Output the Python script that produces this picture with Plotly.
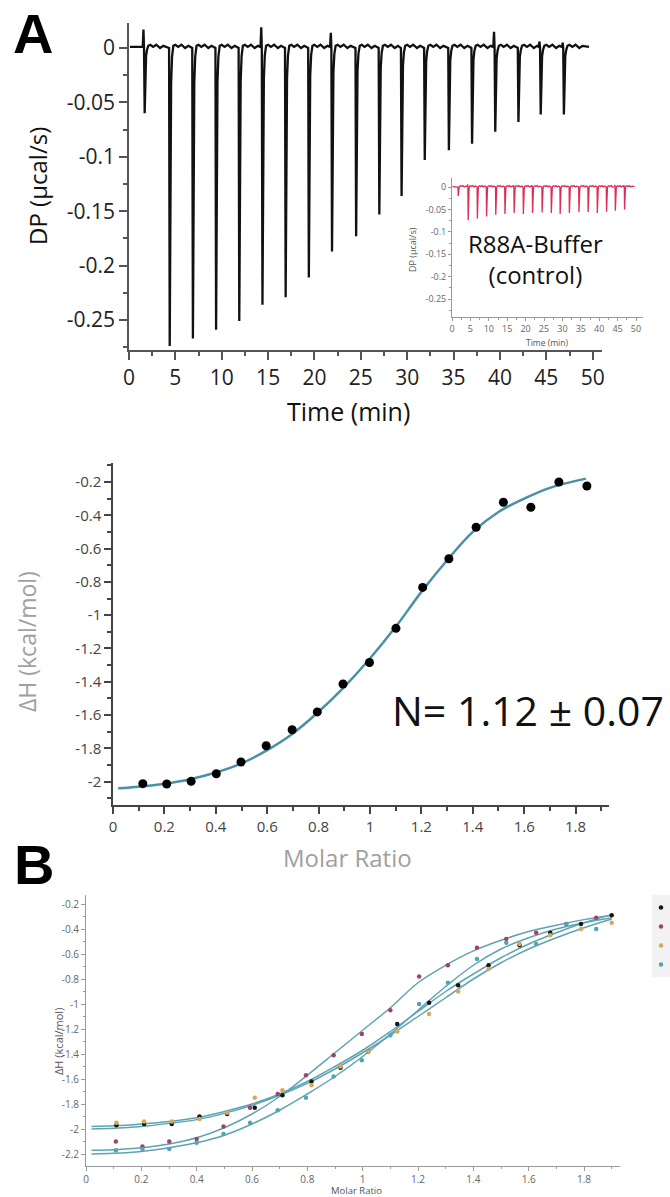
import plotly.graph_objects as go

W, H = 670, 1197

# ---------------- Panel A: raw thermogram ----------------
injection_time = [1.6, 4.3, 6.8, 9.3, 11.8, 14.3, 16.8, 19.3, 21.8, 24.4,
                  26.9, 29.3, 31.8, 34.4, 36.9, 39.4, 41.9, 44.3, 46.8]
sample_dp_min = [-0.060, -0.274, -0.267, -0.259, -0.251, -0.236, -0.229, -0.211,
                 -0.187, -0.173, -0.153, -0.136, -0.103, -0.094, -0.088, -0.077,
                 -0.068, -0.061, -0.061]
sample_spike = [0.017, 0, 0, 0, 0, 0.019, 0, 0, 0.014, 0,
                0, 0, 0, 0, 0, 0.015, 0, 0.006, 0.005]
control_dp_min = [-0.020, -0.074, -0.070, -0.066, -0.062, -0.060, -0.058, -0.060,
                  -0.058, -0.057, -0.058, -0.060, -0.058, -0.056, -0.056, -0.058,
                  -0.055, -0.053, -0.050]
control_spike = [0, 0.006, 0, 0, 0, 0, 0.004, 0, 0.004, 0,
                 0, 0, 0, 0, 0, 0, 0, 0.005, 0.004]
run_start, run_end = 0.1, 49.6

dp_tickvals = [0, -0.05, -0.1, -0.15, -0.2, -0.25]
dp_ticktext = ["0", "-0.05", "-0.1", "-0.15", "-0.2", "-0.25"]
time_tickvals = [0, 5, 10, 15, 20, 25, 30, 35, 40, 45, 50]
time_ticktext = [str(v) for v in time_tickvals]

# ---------------- Panel A: integrated heats ----------------
molar_ratio = [0.116, 0.209, 0.304, 0.402, 0.498, 0.596, 0.697, 0.795, 0.895,
               0.998, 1.101, 1.205, 1.307, 1.413, 1.519, 1.626, 1.735, 1.844]
delta_h = [-2.012, -2.014, -1.998, -1.952, -1.882, -1.784, -1.688, -1.581, -1.413,
           -1.284, -1.079, -0.833, -0.661, -0.472, -0.322, -0.352, -0.200, -0.224]
fit_ratio = [0.02, 0.1, 0.2, 0.3, 0.4, 0.5, 0.6, 0.7, 0.8, 0.9, 1.0,
             1.1, 1.2, 1.3, 1.4, 1.5, 1.6, 1.7, 1.84]
fit_dh = [-2.04, -2.03, -2.012, -1.985, -1.945, -1.89, -1.81, -1.71, -1.58, -1.43,
          -1.26, -1.07, -0.86, -0.67, -0.50, -0.38, -0.30, -0.235, -0.18]

dh_tickvals = [-0.2, -0.4, -0.6, -0.8, -1, -1.2, -1.4, -1.6, -1.8, -2]
dh_ticktext = ["-0.2", "-0.4", "-0.6", "-0.8", "-1", "-1.2", "-1.4", "-1.6", "-1.8", "-2"]
mr_tickvals = [0, 0.2, 0.4, 0.6, 0.8, 1, 1.2, 1.4, 1.6, 1.8]
mr_ticktext = ["0", "0.2", "0.4", "0.6", "0.8", "1", "1.2", "1.4", "1.6", "1.8"]

# ---------------- Panel B: replicate titrations ----------------
rep_colors = ["#151515", "#a3406e", "#d9a75a", "#4fa6b5"]
rep_ratio = [
    [0.11, 0.21, 0.31, 0.41, 0.51, 0.61, 0.71, 0.815, 0.92, 1.02, 1.125, 1.24, 1.345, 1.455, 1.567, 1.678, 1.789, 1.90],
    [0.108, 0.204, 0.301, 0.40, 0.497, 0.593, 0.693, 0.795, 0.895, 0.997, 1.10, 1.204, 1.308, 1.413, 1.519, 1.627, 1.736, 1.844],
    [0.11, 0.21, 0.31, 0.41, 0.51, 0.61, 0.71, 0.815, 0.92, 1.02, 1.125, 1.24, 1.345, 1.455, 1.567, 1.678, 1.789, 1.90],
    [0.108, 0.204, 0.301, 0.40, 0.497, 0.593, 0.693, 0.795, 0.895, 0.997, 1.10, 1.204, 1.308, 1.413, 1.519, 1.627, 1.736, 1.844],
]
rep_dh = [
    [-1.97, -1.96, -1.96, -1.90, -1.88, -1.83, -1.73, -1.62, -1.51, -1.38, -1.16, -0.99, -0.85, -0.69, -0.53, -0.43, -0.36, -0.29],
    [-2.10, -2.14, -2.10, -2.08, -1.98, -1.83, -1.72, -1.57, -1.41, -1.24, -1.05, -0.78, -0.69, -0.55, -0.48, -0.43, -0.36, -0.31],
    [-1.95, -1.94, -1.94, -1.92, -1.87, -1.75, -1.69, -1.65, -1.50, -1.38, -1.22, -1.08, -0.90, -0.72, -0.52, -0.45, -0.40, -0.35],
    [-2.17, -2.16, -2.16, -2.11, -2.04, -1.95, -1.85, -1.75, -1.58, -1.45, -1.25, -1.00, -0.83, -0.64, -0.51, -0.52, -0.36, -0.40],
]
rep_fit_ratio = [0.02, 0.1, 0.2, 0.3, 0.4, 0.5, 0.6, 0.7, 0.8, 0.9, 1.0,
                 1.1, 1.2, 1.3, 1.4, 1.5, 1.6, 1.7, 1.8, 1.9]
rep_fit_dh = [
    [-1.98, -1.975, -1.96, -1.94, -1.91, -1.86, -1.80, -1.72, -1.62, -1.50, -1.37, -1.22, -1.06, -0.90, -0.76, -0.63, -0.52, -0.43, -0.35, -0.285],
    [-2.17, -2.165, -2.15, -2.12, -2.07, -1.99, -1.88, -1.74, -1.57, -1.39, -1.21, -1.03, -0.83, -0.69, -0.575, -0.49, -0.42, -0.37, -0.325, -0.29],
    [-2.00, -1.995, -1.98, -1.955, -1.925, -1.875, -1.81, -1.73, -1.635, -1.52, -1.39, -1.25, -1.10, -0.95, -0.80, -0.67, -0.56, -0.47, -0.39, -0.32],
    [-2.20, -2.195, -2.18, -2.15, -2.11, -2.05, -1.96, -1.85, -1.72, -1.58, -1.42, -1.24, -1.05, -0.86, -0.69, -0.56, -0.47, -0.40, -0.35, -0.31],
]
b_dh_tickvals = [-0.2, -0.4, -0.6, -0.8, -1, -1.2, -1.4, -1.6, -1.8, -2, -2.2]
b_dh_ticktext = ["-0.2", "-0.4", "-0.6", "-0.8", "-1", "-1.2", "-1.4", "-1.6", "-1.8", "-2", "-2.2"]

# Shape of a single injection peak: (time offset, fraction of peak depth, baseline offset)
PEAK_PROFILE = [(0.02, 0.0, 0.0), (0.09, 1.0, 0.0), (0.16, 0.40, 0.0), (0.24, 0.12, 0.0),
                (0.34, 0.03, 0.0), (0.48, 0.0, 0.002), (0.70, 0.0, 0.003), (1.00, 0.0, 0.001),
                (1.35, 0.0, 0.003), (1.75, 0.0, 0.0), (2.10, 0.0, 0.002)]


def thermogram(times, depths, spikes, t0, t1):
    t, v = [t0], [0.001]
    for ti, di, si in zip(times, depths, spikes):
        t.append(ti - 0.12)
        v.append(0.001)
        if si:
            t.append(ti - 0.04)
            v.append(si)
        for dt, frac, off in PEAK_PROFILE:
            t.append(ti + dt)
            v.append(di * frac + off)
    t.append(t1)
    v.append(0.001)
    return t, v


def px(x):
    return x / W


def py(y):
    return 1 - y / H


fig = go.Figure()

ts, vs = thermogram(injection_time, sample_dp_min, sample_spike, run_start, run_end)
fig.add_trace(go.Scatter(x=ts, y=vs, mode="lines", line=dict(color="#111111", width=2.3),
                         xaxis="x", yaxis="y", showlegend=False, hoverinfo="skip"))

tc, vc = thermogram(injection_time, control_dp_min, control_spike, run_start, run_end)
fig.add_trace(go.Scatter(x=tc, y=vc, mode="lines", line=dict(color="#dc2f58", width=1.3),
                         xaxis="x2", yaxis="y2", showlegend=False, hoverinfo="skip"))

fig.add_trace(go.Scatter(x=fit_ratio, y=fit_dh, mode="lines", line=dict(color="#4a90a6", width=2.5, shape="spline"),
                         xaxis="x3", yaxis="y3", showlegend=False))
fig.add_trace(go.Scatter(x=molar_ratio, y=delta_h, mode="markers", marker=dict(color="#000000", size=9),
                         xaxis="x3", yaxis="y3", showlegend=False))

for fd in rep_fit_dh:
    fig.add_trace(go.Scatter(x=rep_fit_ratio, y=fd, mode="lines",
                             line=dict(color="#5fa3b3", width=1.5, shape="spline"),
                             xaxis="x4", yaxis="y4", showlegend=False))
for col, xs, ys in zip(rep_colors, rep_ratio, rep_dh):
    fig.add_trace(go.Scatter(x=xs, y=ys, mode="markers", name="",
                             marker=dict(color=col, size=4.5, symbol="circle"),
                             xaxis="x4", yaxis="y4", showlegend=True))


def axis_style(domain, rng, tickvals, ticktext, size, color, linecolor, ticklen, minor_dtick, lw, anchor):
    return dict(domain=domain, range=rng, tickmode="array", tickvals=tickvals, ticktext=ticktext,
                showgrid=False, zeroline=False, showline=True, linecolor=linecolor, linewidth=lw,
                ticks="outside", ticklen=ticklen, tickwidth=lw, tickcolor=linecolor,
                tickfont=dict(family="Open Sans", size=size, color=color),
                minor=dict(tickmode="linear", tick0=0, dtick=minor_dtick, ticks="outside",
                           ticklen=max(2, int(ticklen * 0.6)), tickwidth=lw, tickcolor=linecolor),
                anchor=anchor, fixedrange=True)


layout = dict(
    width=W, height=H, margin=dict(l=0, r=0, t=0, b=0, autoexpand=False),
    paper_bgcolor="white", plot_bgcolor="rgba(0,0,0,0)", showlegend=True,
    xaxis=axis_style([px(129), px(602)], [0, 51], time_tickvals, time_ticktext, 21, "#222222", "#555555", 8, 2.5, 1.5, "y"),
    yaxis=axis_style([py(350), py(23)], [-0.2776, 0.023], dp_tickvals, dp_ticktext, 21, "#222222", "#555555", 8, 0.025, 1.5, "x"),
    xaxis2=axis_style([px(452), px(643)], [0, 51.9], time_tickvals, time_ticktext, 9, "#666666", "#9a9a9a", 3, 2.5, 1, "y2"),
    yaxis2=axis_style([py(317), py(178)], [-0.29, 0.0201], dp_tickvals, dp_ticktext, 9, "#666666", "#9a9a9a", 3, 0.025, 1, "x2"),
    xaxis3=axis_style([px(113), px(609)], [0, 1.93], mr_tickvals, mr_ticktext, 15, "#444444", "#444444", 7, 0.1, 1.5, "y3"),
    yaxis3=axis_style([py(805), py(463)], [-2.14, -0.086], dh_tickvals, dh_ticktext, 15, "#444444", "#444444", 7, 0.1, 1.5, "x3"),
    xaxis4=axis_style([px(86), px(620)], [0, 1.93], mr_tickvals, mr_ticktext, 10, "#666666", "#9a9a9a", 4, 0.1, 1, "y4"),
    yaxis4=axis_style([py(1166), py(895)], [-2.296, -0.128], b_dh_tickvals, b_dh_ticktext, 10, "#666666", "#9a9a9a", 4, 0.1, 1, "x4"),
    legend=dict(x=px(641), y=py(893), xanchor="left", yanchor="top", bgcolor="rgba(0,0,0,0)",
                font=dict(family="Open Sans", size=11, color="#666666"), itemwidth=30),
)
fig.update_layout(**layout)

fig.add_shape(type="rect", xref="paper", yref="paper", x0=px(652), x1=px(675), y0=py(977), y1=py(895),
              fillcolor="#f2f2f2", line=dict(width=0), layer="below")


def label(text, x, y, size, color="#111111", angle=0, family="Open Sans"):
    fig.add_annotation(text=text, x=px(x), y=py(y), xref="paper", yref="paper", showarrow=False,
                       xanchor="center", yanchor="middle", textangle=angle,
                       font=dict(family=family, size=size, color=color))


label("<b>A</b>", 33, 33, 56, "#000000", family="Liberation Sans")
label("<b>B</b>", 34, 864, 56, "#000000", family="Liberation Sans")
label("DP (µcal/s)", 37, 186, 24, "#111111", angle=-90)
label("Time (min)", 348, 411, 25, "#111111")
label("R88A-Buffer<br>(control)", 535, 259, 24, "#111111")
label("DP (µcal/s)", 412, 250, 9, "#555555", angle=-90)
label("Time (min)", 547, 342, 8.5, "#555555")
label("ΔH (kcal/mol)", 27, 642, 23, "#a0a0a0", angle=-90)
label("Molar Ratio", 347, 857, 24, "#a0a0a0")
label("N= 1.12 ± 0.07", 528, 710, 41, "#111111")
label("ΔH (kcal/mol)", 58, 1042, 11, "#555555", angle=-90)
label("Molar Ratio", 356, 1190, 9.5, "#555555")

fig.write_html("out.html")
